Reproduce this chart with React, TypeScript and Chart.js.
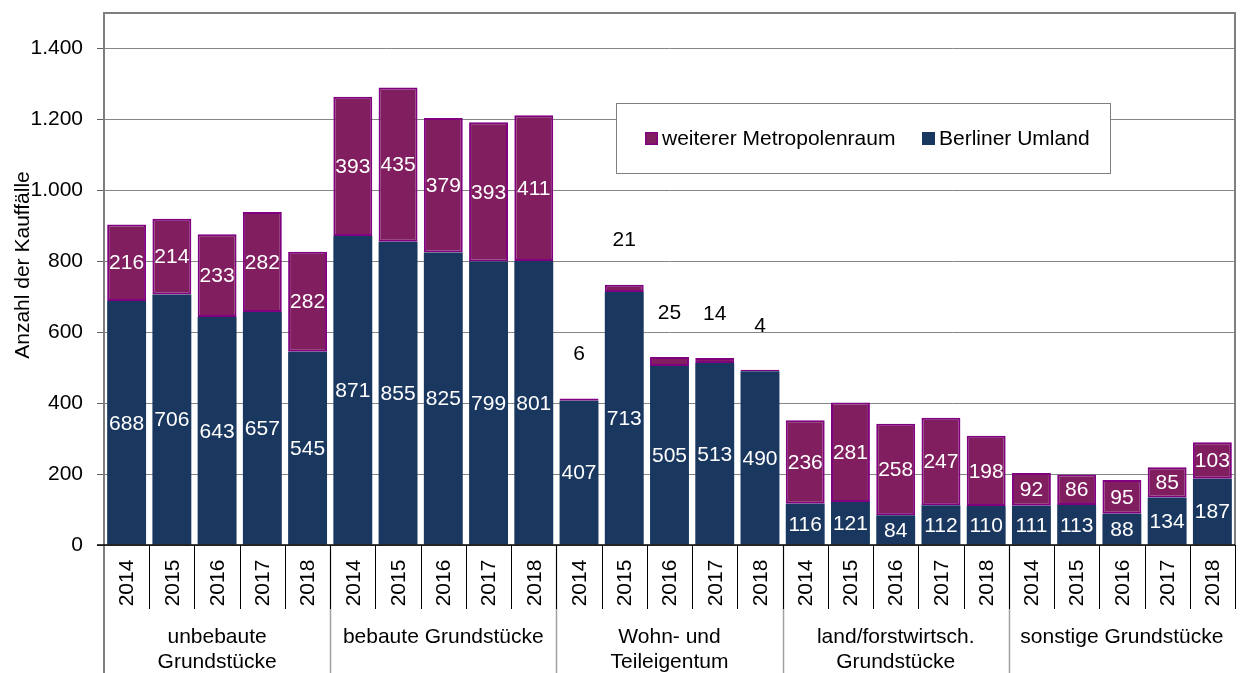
import React, { useEffect, useRef } from 'react';
import { Chart, registerables } from 'chart.js';

Chart.register(...registerables);

const years = ['2014', '2015', '2016', '2017', '2018'];
const groupLabels: string[][] = [
  ['unbebaute', 'Grundstücke'],
  ['bebaute Grundstücke'],
  ['Wohn- und', 'Teileigentum'],
  ['land/forstwirtsch.', 'Grundstücke'],
  ['sonstige Grundstücke'],
];
const berlinerUmland = [
  688, 706, 643, 657, 545,
  871, 855, 825, 799, 801,
  407, 713, 505, 513, 490,
  116, 121, 84, 112, 110,
  111, 113, 88, 134, 187,
];
const weitererMetropolenraum = [
  216, 214, 233, 282, 282,
  393, 435, 379, 393, 411,
  6, 21, 25, 14, 4,
  236, 281, 258, 247, 198,
  92, 86, 95, 85, 103,
];
const yTickValues = [0, 200, 400, 600, 800, 1000, 1200, 1400];
const seriesNames = ['Berliner Umland', 'weiterer Metropolenraum'];

const FONT = '"Liberation Sans", Arial, sans-serif';
const FS = 21;
const NAVY = '#19375F';
const PURPLE = '#801E5F';
const PURPLE_BORDER = '#800080';

const fmt = (v: number) => String(v).replace(/\B(?=(\d{3})+(?!\d))/g, '.');

const categories: string[] = [];
groupLabels.forEach((g) => years.forEach((y) => categories.push(g.join(' ') + ' ' + y)));

const decorPlugin = {
  id: 'decor',
  afterDatasetsDraw(chart: any) {
    const ctx = chart.ctx;
    ctx.save();
    ctx.font = `${FS}px ${FONT}`;
    ctx.textAlign = 'center';
    ctx.textBaseline = 'middle';
    chart.data.datasets.forEach((ds: any, di: number) => {
      const meta = chart.getDatasetMeta(di);
      meta.data.forEach((el: any, i: number) => {
        const v = ds.data[i];
        const { x, y, base } = el.getProps(['x', 'y', 'base'], true);
        const h = Math.abs(base - y);
        if (h >= 22) {
          ctx.fillStyle = '#ffffff';
          ctx.fillText(String(v), x, (y + base) / 2 + 1);
        } else {
          ctx.fillStyle = '#000000';
          ctx.fillText(String(v), x, Math.min(y, base) - 44);
        }
      });
    });
    ctx.restore();
  },
  afterDraw(chart: any) {
    const ctx = chart.ctx;
    const area = chart.chartArea;
    const xs = chart.scales.x;
    const n = categories.length;
    const cw = (area.right - area.left) / n;
    const bottom = chart.height;
    const yearBand = area.bottom + 64;
    ctx.save();

    // frame
    ctx.strokeStyle = '#7f7f7f';
    ctx.lineWidth = 2;
    ctx.beginPath();
    ctx.moveTo(area.left, bottom);
    ctx.lineTo(area.left, area.top);
    ctx.lineTo(area.right, area.top);
    ctx.lineTo(area.right, area.bottom);
    ctx.stroke();

    // group separators (long, gray)
    ctx.strokeStyle = '#a0a0a0';
    ctx.lineWidth = 1.5;
    for (let g = 1; g < groupLabels.length; g++) {
      const bx = Math.round(area.left + g * years.length * cw) + 0.5;
      ctx.beginPath();
      ctx.moveTo(bx, area.bottom);
      ctx.lineTo(bx, bottom);
      ctx.stroke();
    }
    // year separators (short, black)
    ctx.strokeStyle = '#000000';
    ctx.lineWidth = 1;
    for (let b = 1; b <= n; b++) {
      const bx = Math.round(area.left + b * cw) + 0.5;
      ctx.beginPath();
      ctx.moveTo(bx, area.bottom);
      ctx.lineTo(bx, yearBand);
      ctx.stroke();
    }
    // x axis line
    ctx.lineWidth = 1.5;
    ctx.beginPath();
    ctx.moveTo(area.left - 7, area.bottom);
    ctx.lineTo(area.right, area.bottom);
    ctx.stroke();

    // year labels
    ctx.fillStyle = '#000000';
    ctx.font = `${FS}px ${FONT}`;
    ctx.textAlign = 'center';
    ctx.textBaseline = 'middle';
    for (let i = 0; i < n; i++) {
      const cx = xs.getPixelForValue(i);
      ctx.save();
      ctx.translate(cx + 1, area.bottom + 38);
      ctx.rotate(-Math.PI / 2);
      ctx.fillText(years[i % years.length], 0, 0);
      ctx.restore();
    }
    // group labels
    groupLabels.forEach((lines, g) => {
      const c0 = xs.getPixelForValue(g * years.length);
      const c1 = xs.getPixelForValue(g * years.length + years.length - 1);
      const cx = (c0 + c1) / 2;
      lines.forEach((t, li) => {
        ctx.fillText(t, cx, area.bottom + 92 + li * 25);
      });
    });

    // y axis title
    ctx.save();
    ctx.translate(23, 265);
    ctx.rotate(-Math.PI / 2);
    ctx.fillText('Anzahl der Kauffälle', 0, 0);
    ctx.restore();

    // legend
    const lx = 616, ly = 103, lw = 494, lh = 70;
    ctx.fillStyle = '#ffffff';
    ctx.fillRect(lx, ly, lw, lh);
    ctx.strokeStyle = '#7f7f7f';
    ctx.lineWidth = 1;
    ctx.strokeRect(lx + 0.5, ly + 0.5, lw, lh);
    const items = [
      { name: seriesNames[1], fill: PURPLE, stroke: PURPLE_BORDER, x: 645 },
      { name: seriesNames[0], fill: NAVY, stroke: NAVY, x: 922 },
    ];
    const cy = ly + lh / 2 + 1;
    items.forEach((it) => {
      ctx.fillStyle = it.fill;
      ctx.fillRect(it.x, cy - 7, 13, 13);
      ctx.strokeStyle = it.stroke;
      ctx.lineWidth = 1.5;
      ctx.strokeRect(it.x + 0.75, cy - 6.25, 11.5, 11.5);
      ctx.fillStyle = '#000000';
      ctx.textAlign = 'left';
      ctx.fillText(it.name, it.x + 17, cy);
    });

    ctx.restore();
  },
};

export default function App() {
  const ref = useRef<HTMLCanvasElement | null>(null);
  useEffect(() => {
    if (!ref.current) return;
    Chart.defaults.font.family = FONT;
    const chart = new Chart(ref.current, {
      type: 'bar',
      data: {
        labels: categories,
        datasets: [
          {
            label: seriesNames[0],
            data: berlinerUmland,
            backgroundColor: NAVY,
            borderWidth: 0,
            barPercentage: 0.86,
            categoryPercentage: 1,
          },
          {
            label: seriesNames[1],
            data: weitererMetropolenraum,
            backgroundColor: PURPLE,
            borderColor: PURPLE_BORDER,
            borderWidth: 2,
            borderSkipped: false,
            barPercentage: 0.86,
            categoryPercentage: 1,
          },
        ],
      },
      options: {
        responsive: false,
        animation: false,
        devicePixelRatio: 1,
        layout: { padding: { top: 13, right: 6, left: 0, bottom: 0 } },
        plugins: { legend: { display: false }, tooltip: { enabled: false } },
        scales: {
          x: {
            stacked: true,
            ticks: { display: false },
            grid: { display: false },
            border: { display: false },
            afterFit: (s: any) => {
              s.height = 128;
              s.paddingLeft = 0;
              s.paddingRight = 0;
            },
          },
          y: {
            stacked: true,
            min: 0,
            max: 1500,
            afterBuildTicks: (s: any) => {
              s.ticks = yTickValues.map((v) => ({ value: v }));
            },
            afterFit: (s: any) => {
              s.width = 104;
              s.paddingTop = 0;
              s.paddingBottom = 0;
            },
            ticks: {
              color: '#000000',
              padding: 14,
              font: { family: FONT, size: FS },
              callback: (v: any) => fmt(Number(v)),
            },
            grid: { color: '#868686', lineWidth: 1, tickLength: 7, tickColor: '#606060' },
            border: { display: false },
          },
        },
      },
      plugins: [decorPlugin],
    });
    return () => chart.destroy();
  }, []);
  return (
    <div style={{ position: 'absolute', left: 0, top: 0, width: 1241, height: 673, background: '#fff' }}>
      <canvas ref={ref} width={1241} height={673} />
    </div>
  );
}
